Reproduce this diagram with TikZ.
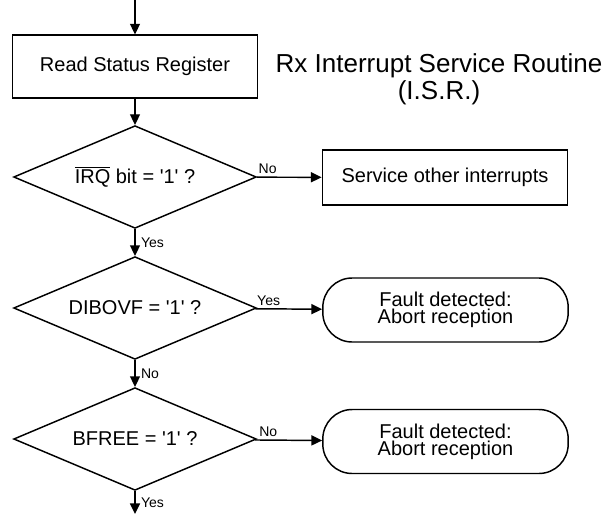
\documentclass[tikz,border=0pt]{standalone}
\usepackage{fontspec}
\setmainfont{Liberation Sans}
\usetikzlibrary{shapes.geometric,arrows.meta}
\newcommand{\q}{\textquotesingle}
\begin{document}
\begin{tikzpicture}[x=0.75pt,y=-0.75pt]
\tikzstyle{every node}+=[inner sep=0pt]
\tikzstyle{box}=[draw,line width=1.1pt,minimum width=184pt,font=\fontsize{15}{13}\selectfont]
\tikzstyle{test}=[draw,diamond,aspect=2.36,line width=1.1pt,minimum width=182pt,minimum height=77pt,font=\fontsize{15}{13}\selectfont]
\tikzstyle{fault}=[draw,rounded corners=22pt,line width=1.1pt,minimum width=184pt,minimum height=48pt,align=center,font=\fontsize{15}{13}\selectfont]
\tikzstyle{arr}=[line width=1.1pt,-{Triangle[length=8pt,width=7.5pt]}]
\tikzstyle{lbl}=[font=\fontsize{10.5}{12}\selectfont,inner sep=2pt]
\useasboundingbox (0,0) rectangle (602,514);
% main column
\coordinate (in) at (135,0);
\node[box,minimum height=47pt] (rsr) at (135,66.5) {Read Status Register};
\node[test] (irq) at (135,177) {$\overline{\mbox{IRQ}}$ bit = \q1\q{} ?};
\node[test] (ovf) at (135,308) {DIBOVF = \q1\q{} ?};
\node[test] (free) at (135,439) {BFREE = \q1\q{} ?};
\coordinate (out) at (135,514);
% right column
\node[box,minimum height=41pt] (other) at (445,177.5) {Service other interrupts};
\node[fault] (abort1) at (445.5,310) {Fault detected:\\Abort reception};
\node[fault] (abort2) at (445.5,441.5) {Fault detected:\\Abort reception};
\node[align=center,font=\fontsize{19.5}{20}\selectfont] (title) at (439,79) {Rx Interrupt Service Routine\\(I.S.R.)};
% connectors
\draw[arr] (in) -- (rsr);
\draw[arr] (rsr) -- (irq);
\draw[arr] (irq) -- node[lbl,right,xshift=2pt] {Yes} (ovf);
\draw[arr] (ovf) -- node[lbl,right,xshift=2pt] {No} (free);
\draw[arr] (free) -- node[lbl,right,xshift=2pt] {Yes} (out);
\draw[arr] (irq) -- node[lbl,above,pos=0.17] {No} (other);
\draw[arr] (ovf) -- node[lbl,above,pos=0.2] {Yes} (abort1);
\draw[arr] (free) -- node[lbl,above,pos=0.2] {No} (abort2);
\end{tikzpicture}
\end{document}
